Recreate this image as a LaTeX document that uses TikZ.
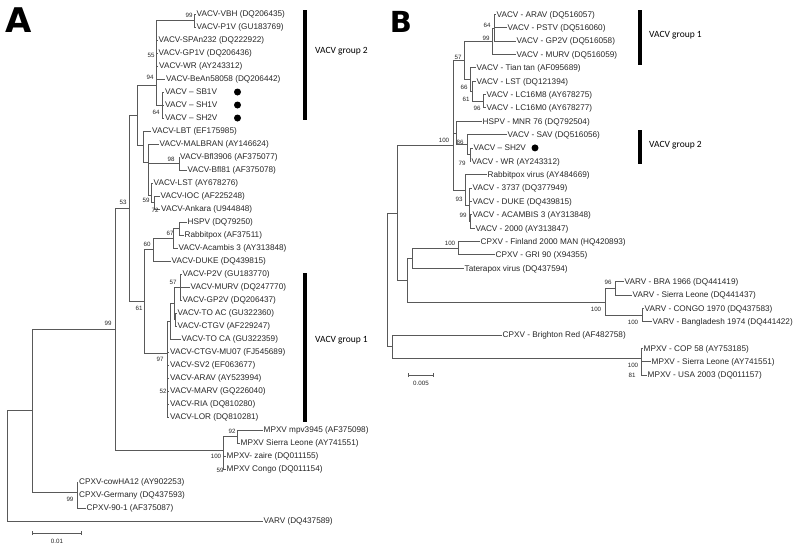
\documentclass[tikz,border=0pt]{standalone}
\usepackage{fontspec}
\setmainfont{Liberation Sans}
\newfontfamily\grpfont{Carlito}
\newfontfamily\panelfont{DejaVu Sans}
\usetikzlibrary{arrows.meta}
\tikzstyle{branch} = [draw=black!65, line width=0.7pt]
\tikzstyle{leaf} = [anchor=west, inner sep=1pt, text height=5.8pt, text depth=0pt, font=\fontsize{8.2}{9}\selectfont, text=black!85]
\tikzstyle{boot} = [inner sep=0pt, font=\fontsize{6.2}{7}\selectfont, text=black!85]
\tikzstyle{dot} = [circle, fill=black, inner sep=0pt, minimum size=7pt]
\tikzstyle{grpbar} = [line width=3.5pt]
\tikzstyle{grplabel} = [anchor=west, inner sep=0pt, font=\grpfont\fontsize{9.5}{11}\selectfont]
\tikzstyle{panel} = [inner sep=0pt, font=\panelfont\bfseries\fontsize{34}{36}\selectfont]
\tikzstyle{scalebar} = [draw=black!65, line width=0.7pt, {Bar[width=4pt]}-{Bar[width=4pt]}]

\begin{document}
\begin{tikzpicture}[x=1pt,y=-1pt]
    \useasboundingbox (0,0) rectangle (800,549);
    \node[panel] (pA) at (18.5,20.5) {A};
    \node[panel,font=\panelfont\bfseries\fontsize{29}{31}\selectfont] (pB) at (401,22) {B};

    % tree A
    \node[leaf] (a0) at (195.5,14) {VACV-VBH (DQ206435)};
    \node[leaf] (a1) at (195.5,27) {VACV-P1V (GU183769)};
    \node[leaf] (a2) at (157.5,40) {VACV-SPAn232 (DQ222922)};
    \node[leaf] (a3) at (157.5,53) {VACV-GP1V (DQ206436)};
    \node[leaf] (a4) at (158,66) {VACV-WR (AY243312)};
    \node[leaf] (a5) at (165,79) {VACV-BeAn58058 (DQ206442)};
    \node[leaf] (a6) at (164,92) {VACV – SB1V};
    \node[leaf] (a7) at (164,105) {VACV – SH1V};
    \node[leaf] (a8) at (164,118) {VACV – SH2V};
    \node[leaf] (a9) at (151,131) {VACV-LBT (EF175985)};
    \node[leaf] (a10) at (158.5,144) {VACV-MALBRAN (AY146624)};
    \node[leaf] (a11) at (179,157) {VACV-Bfl3906 (AF375077)};
    \node[leaf] (a12) at (186.5,170) {VACV-Bfl81 (AF375078)};
    \node[leaf] (a13) at (152.5,183) {VACV-LST (AY678276)};
    \node[leaf] (a14) at (159.5,196) {VACV-IOC (AF225248)};
    \node[leaf] (a15) at (160,209) {VACV-Ankara (U944848)};
    \node[leaf] (a16) at (186.5,222) {HSPV (DQ79250)};
    \node[leaf] (a17) at (183.5,235) {Rabbitpox (AF37511)};
    \node[leaf] (a18) at (177.5,248) {VACV-Acambis 3 (AY313848)};
    \node[leaf] (a19) at (170.5,261) {VACV-DUKE (DQ439815)};
    \node[leaf] (a20) at (181.5,274) {VACV-P2V (GU183770)};
    \node[leaf] (a21) at (189.5,287) {VACV-MURV (DQ247770)};
    \node[leaf] (a22) at (181.5,300) {VACV-GP2V (DQ206437)};
    \node[leaf] (a23) at (176.5,313) {VACV-TO AC (GU322360)};
    \node[leaf] (a24) at (176.5,326) {VACV-CTGV (AF229247)};
    \node[leaf] (a25) at (180.5,339) {VACV-TO CA (GU322359)};
    \node[leaf] (a26) at (169,352) {VACV-CTGV-MU07 (FJ545689)};
    \node[leaf] (a27) at (169,365) {VACV-SV2 (EF063677)};
    \node[leaf] (a28) at (169,378) {VACV-ARAV (AY523994)};
    \node[leaf] (a29) at (169,391) {VACV-MARV (GQ226040)};
    \node[leaf] (a30) at (169,404) {VACV-RIA (DQ810280)};
    \node[leaf] (a31) at (169,417) {VACV-LOR (DQ810281)};
    \node[leaf] (a32) at (262.5,430) {MPXV mpv3945 (AF375098)};
    \node[leaf] (a33) at (239.5,443) {MPXV Sierra Leone (AY741551)};
    \node[leaf] (a34) at (225.5,456) {MPXV- zaire (DQ011155)};
    \node[leaf] (a35) at (225.5,469) {MPXV Congo (DQ011154)};
    \node[leaf] (a36) at (78,482) {CPXV-cowHA12 (AY902253)};
    \node[leaf] (a37) at (78,495) {CPXV-Germany (DQ437593)};
    \node[leaf] (a38) at (85.5,508) {CPXV-90-1 (AF375087)};
    \node[leaf] (a39) at (262.5,521) {VARV (DQ437589)};
    \node[dot] (d6) at (237.5,92) {};
    \node[dot] (d7) at (237.5,105) {};
    \node[dot] (d8) at (237.5,118) {};

    \coordinate (nVP) at (194,20.5);
    \coordinate (n55) at (156,50);
    \coordinate (nSB) at (162,105);
    \coordinate (n94) at (156,85);
    \coordinate (n137) at (137,115);
    \coordinate (n143) at (143,145);
    \coordinate (n148) at (148,162);
    \coordinate (n98) at (179,163.5);
    \coordinate (n59) at (151,195);
    \coordinate (n72) at (154,202.5);
    \coordinate (nHR) at (179,228.5);
    \coordinate (n67) at (173,238);
    \coordinate (n60) at (153,249);
    \coordinate (n57) at (180,287);
    \coordinate (nTC) at (175.5,319.5);
    \coordinate (nb) at (174,303);
    \coordinate (na) at (170,321);
    \coordinate (n97) at (167,353);
    \coordinate (n61) at (144,301);
    \coordinate (n129) at (129,208);
    \coordinate (n92) at (237,436.5);
    \coordinate (nMP) at (223,450);
    \coordinate (n115) at (115,329);
    \coordinate (nCP) at (77,492);
    \coordinate (n32) at (32,410.5);
    \coordinate (nroot) at (7,466);

    \draw[branch] (nVP) |- (a0) (nVP) |- (a1);
    \draw[branch] (n55) |- (nVP) (n55) |- (a2) (n55) |- (a3) (n55) |- (a4) (n55) |- (a5);
    \draw[branch] (nSB) |- (a6) (nSB) |- (a7) (nSB) |- (a8);
    \draw[branch] (n94) |- (n55) (n94) |- (nSB);
    \draw[branch] (n137) |- (n94) (n137) |- (n143);
    \draw[branch] (n143) |- (a9) (n143) |- (n148);
    \draw[branch] (n148) |- (a10) (n148) |- (n98) (n148) |- (n59);
    \draw[branch] (n98) |- (a11) (n98) |- (a12);
    \draw[branch] (n59) |- (a13) (n59) |- (n72);
    \draw[branch] (n72) |- (a14) (n72) |- (a15);
    \draw[branch] (nHR) |- (a16) (nHR) |- (a17);
    \draw[branch] (n67) |- (nHR) (n67) |- (a18);
    \draw[branch] (n60) |- (n67) (n60) |- (a19);
    \draw[branch] (n57) |- (a20) (n57) |- (a21) (n57) |- (a22);
    \draw[branch] (nTC) |- (a23) (nTC) |- (a24);
    \draw[branch] (nb) |- (n57) (nb) |- (nTC);
    \draw[branch] (na) |- (nb) (na) |- (a25);
    \draw[branch] (n97) |- (na) (n97) |- (a26) (n97) |- (a27) (n97) |- (a28) (n97) |- (a29) (n97) |- (a30) (n97) |- (a31);
    \draw[branch] (n61) |- (n60) (n61) |- (n97);
    \draw[branch] (n129) |- (n137) (n129) |- (n61);
    \draw[branch] (n92) |- (a32) (n92) |- (a33);
    \draw[branch] (nMP) |- (n92) (nMP) |- (a34) (nMP) |- (a35);
    \draw[branch] (n115) |- (n129) (n115) |- (nMP);
    \draw[branch] (nCP) |- (a36) (nCP) |- (a37) (nCP) |- (a38);
    \draw[branch] (n32) |- (n115) (n32) |- (nCP);
    \draw[branch] (nroot) |- (n32) (nroot) |- (a39);

    \node[boot] (bA1) at (189,15) {99};
    \node[boot] (bA2) at (151,55) {55};
    \node[boot] (bA3) at (150,77) {94};
    \node[boot] (bA4) at (156,112) {64};
    \node[boot] (bA5) at (171,159) {98};
    \node[boot] (bA6) at (146,200) {59};
    \node[boot] (bA7) at (155,210) {72};
    \node[boot] (bA8) at (123,202) {53};
    \node[boot] (bA9) at (170,233) {67};
    \node[boot] (bA10) at (147,244) {60};
    \node[boot] (bA11) at (173,282) {57};
    \node[boot] (bA12) at (139,308) {61};
    \node[boot] (bA13) at (108,323) {99};
    \node[boot] (bA14) at (160,359) {97};
    \node[boot] (bA15) at (163,391) {52};
    \node[boot] (bA16) at (232,431) {92};
    \node[boot] (bA17) at (216,456) {100};
    \node[boot] (bA18) at (220,470) {59};
    \node[boot] (bA19) at (70,499) {99};

    \coordinate (gA2t) at (305,10);
    \coordinate (gA2b) at (305,120);
    \coordinate (gA1t) at (305,273);
    \coordinate (gA1b) at (305,422);
    \draw[grpbar] (gA2t) -- (gA2b);
    \draw[grpbar] (gA1t) -- (gA1b);
    \node[grplabel] (lA2) at (315,51) {VACV group 2};
    \node[grplabel] (lA1) at (315,340) {VACV group 1};

    \coordinate (sA1) at (32,533);
    \coordinate (sA2) at (82,533);
    \draw[scalebar] (sA1) -- (sA2);
    \node[boot] (sAl) at (57,541) {0.01};

    % tree B
    \node[leaf] (b0) at (495.5,14.3) {VACV - ARAV (DQ516057)};
    \node[leaf] (b1) at (506.5,27.7) {VACV - PSTV (DQ516060)};
    \node[leaf] (b2) at (515.5,41.0) {VACV - GP2V (DQ516058)};
    \node[leaf] (b3) at (515.5,54.4) {VACV - MURV (DQ516059)};
    \node[leaf] (b4) at (475.5,67.7) {VACV - Tian tan (AF095689)};
    \node[leaf] (b5) at (475.5,81.1) {VACV - LST (DQ121394)};
    \node[leaf] (b6) at (485.5,94.5) {VACV - LC16M8 (AY678275)};
    \node[leaf] (b7) at (485.5,107.8) {VACV - LC16M0 (AY678277)};
    \node[leaf] (b8) at (481.5,121.2) {HSPV - MNR 76 (DQ792504)};
    \node[leaf] (b9) at (506.5,134.5) {VACV - SAV (DQ516056)};
    \node[leaf] (b10) at (472.5,147.9) {VACV – SH2V};
    \node[leaf] (b11) at (470.5,161.3) {VACV - WR (AY243312)};
    \node[leaf] (b12) at (486.5,174.6) {Rabbitpox virus (AY484669)};
    \node[leaf] (b13) at (471.5,188.0) {VACV - 3737 (DQ377949)};
    \node[leaf] (b14) at (471.5,201.3) {VACV - DUKE (DQ439815)};
    \node[leaf] (b15) at (471.5,214.7) {VACV - ACAMBIS 3 (AY313848)};
    \node[leaf] (b16) at (474.5,228.1) {VACV - 2000 (AY313847)};
    \node[leaf] (b17) at (479.5,241.4) {CPXV - Finland 2000 MAN (HQ420893)};
    \node[leaf] (b18) at (494.5,254.8) {CPXV - GRI 90 (X94355)};
    \node[leaf] (b19) at (463.5,268.1) {Taterapox virus (DQ437594)};
    \node[leaf] (b20) at (623.5,281.5) {VARV - BRA 1966 (DQ441419)};
    \node[leaf] (b21) at (631.5,294.9) {VARV - Sierra Leone (DQ441437)};
    \node[leaf] (b22) at (643.5,308.2) {VARV - CONGO 1970 (DQ437583)};
    \node[leaf] (b23) at (651.5,321.6) {VARV - Bangladesh 1974 (DQ441422)};
    \node[leaf] (b24) at (501.5,334.9) {CPXV - Brighton Red (AF482758)};
    \node[leaf] (b25) at (642.5,348.3) {MPXV - COP 58 (AY753185)};
    \node[leaf] (b26) at (650.5,361.7) {MPXV - Sierra Leone (AY741551)};
    \node[leaf] (b27) at (646.5,375.0) {MPXV - USA 2003 (DQ011157)};
    \node[dot] (d10) at (535,147.9) {};

    \coordinate (n64b) at (494,28);
    \coordinate (n99b) at (492,41);
    \coordinate (n96b) at (483,101.2);
    \coordinate (n61b) at (472,91);
    \coordinate (n66b) at (470,79);
    \coordinate (n57b) at (464,60);
    \coordinate (n79b) at (470,154.6);
    \coordinate (n86b) at (467,144.5);
    \coordinate (nHb) at (456,133);
    \coordinate (n99c) at (470,221.4);
    \coordinate (n93b) at (469,205);
    \coordinate (nRb) at (465,190);
    \coordinate (nVb) at (453,145);
    \coordinate (nCFb) at (458,248);
    \coordinate (nCb) at (412,258);
    \coordinate (n96c) at (615,288.2);
    \coordinate (n100d) at (642,315);
    \coordinate (nVARb) at (605,302);
    \coordinate (nBb) at (407,280);
    \coordinate (nAb) at (397,213);
    \coordinate (nMPb) at (641,358);
    \coordinate (nDb) at (392,346.5);
    \coordinate (nrootb) at (387,280);

    \draw[branch] (n64b) |- (b0) (n64b) |- (b1) (n64b) |- (b2);
    \draw[branch] (n99b) |- (n64b) (n99b) |- (b3);
    \draw[branch] (n96b) |- (b6) (n96b) |- (b7);
    \draw[branch] (n61b) |- (b5) (n61b) |- (n96b);
    \draw[branch] (n66b) |- (b4) (n66b) |- (n61b);
    \draw[branch] (n57b) |- (n99b) (n57b) |- (n66b);
    \draw[branch] (n79b) |- (b10) (n79b) |- (b11);
    \draw[branch] (n86b) |- (b9) (n86b) |- (n79b);
    \draw[branch] (nHb) |- (b8) (nHb) |- (n86b);
    \draw[branch] (n99c) |- (b15) (n99c) |- (b16);
    \draw[branch] (n93b) |- (b13) (n93b) |- (b14) (n93b) |- (n99c);
    \draw[branch] (nRb) |- (b12) (nRb) |- (n93b);
    \draw[branch] (nVb) |- (n57b) (nVb) |- (nHb) (nVb) |- (nRb);
    \draw[branch] (nCFb) |- (b17) (nCFb) |- (b18);
    \draw[branch] (nCb) |- (nCFb) (nCb) |- (b19);
    \draw[branch] (n96c) |- (b20) (n96c) |- (b21);
    \draw[branch] (n100d) |- (b22) (n100d) |- (b23);
    \draw[branch] (nVARb) |- (n96c) (nVARb) |- (n100d);
    \draw[branch] (nBb) |- (nCb) (nBb) |- (nVARb);
    \draw[branch] (nAb) |- (nVb) (nAb) |- (nBb);
    \draw[branch] (nMPb) |- (b25) (nMPb) |- (b26) (nMPb) |- (b27);
    \draw[branch] (nDb) |- (b24) (nDb) |- (nMPb);
    \draw[branch] (nrootb) |- (nAb) (nrootb) |- (nDb);

    \node[boot] (bB1) at (487,25) {64};
    \node[boot] (bB2) at (486,38) {99};
    \node[boot] (bB3) at (458,57) {57};
    \node[boot] (bB4) at (464,87) {66};
    \node[boot] (bB5) at (466,99) {61};
    \node[boot] (bB6) at (477,108) {96};
    \node[boot] (bB7) at (444,140) {100};
    \node[boot] (bB8) at (460,142) {86};
    \node[boot] (bB9) at (462,163) {79};
    \node[boot] (bB10) at (459,199) {93};
    \node[boot] (bB11) at (463,215) {99};
    \node[boot] (bB12) at (450,243) {100};
    \node[boot] (bB13) at (608,282) {96};
    \node[boot] (bB14) at (596,309) {100};
    \node[boot] (bB15) at (633,322) {100};
    \node[boot] (bB16) at (633,365) {100};
    \node[boot] (bB17) at (632,375) {81};

    \coordinate (gB1t) at (640,10);
    \coordinate (gB1b) at (640,65);
    \coordinate (gB2t) at (640,130);
    \coordinate (gB2b) at (640,164);
    \draw[grpbar] (gB1t) -- (gB1b);
    \draw[grpbar] (gB2t) -- (gB2b);
    \node[grplabel] (lB1) at (649,35) {VACV group 1};
    \node[grplabel] (lB2) at (649,145) {VACV group 2};

    \coordinate (sB1) at (408,375);
    \coordinate (sB2) at (434,375);
    \draw[scalebar] (sB1) -- (sB2);
    \node[boot] (sBl) at (421,383) {0.005};
\end{tikzpicture}
\end{document}
